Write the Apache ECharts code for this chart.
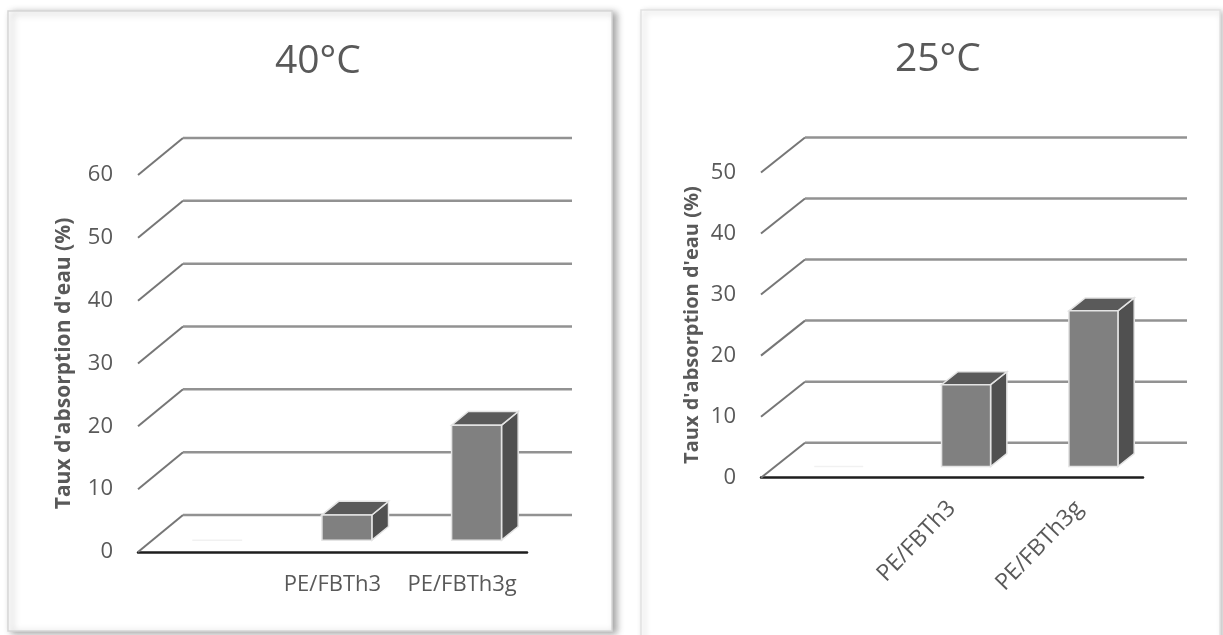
<!DOCTYPE html>
<html>
<head>
<meta charset="utf-8">
<script src="https://cdn.jsdelivr.net/npm/echarts@6/dist/echarts.min.js"></script>
<style>
  html, body { margin: 0; padding: 0; background: #fff; }
  #chart { width: 1223px; height: 635px; }
</style>
</head>
<body>
<div id="chart"></div>
<script>
// Water uptake of the two composites at two temperatures
const categories = ['', 'PE/FBTh3', 'PE/FBTh3g'];
const absorption40 = [0, 4.0, 18.3];
const absorption25 = [0, 13.4, 25.5];
const yTicks40 = [0, 10, 20, 30, 40, 50, 60];
const yTicks25 = [0, 10, 20, 30, 40, 50];
const titles = ['40°C', '25°C'];
const yTitle = "Taux d'absorption d'eau (%)";

const FONT = "'Open Sans', 'Noto Sans', sans-serif";
const TEXT = '#595959';

// pseudo-3D depth of the floor (pixel offset from front edge to back wall)
const DEPTH = [{ dx: 45, dy: -37 }, { dx: 44, dy: -35 }];
const BAR_FRONT = 0.32, BAR_BACK = 0.69, BAR_WIDTH = 0.385;

function wallRenderer(dx, dy) {
  return function (params, api) {
    const cs = params.coordSys;
    const y = api.coord([0, api.value(1)])[1];
    const x0 = cs.x, x1 = cs.x + cs.width;
    return {
      type: 'group',
      children: [
        { type: 'line', shape: { x1: x0, y1: y, x2: x0 + dx, y2: y + dy },
          style: { stroke: '#767676', lineWidth: 2 } },
        { type: 'line', shape: { x1: x0 + dx, y1: y + dy, x2: x1 + dx, y2: y + dy },
          style: { stroke: '#929292', lineWidth: 2.5 } }
      ]
    };
  };
}

function barRenderer(dx, dy) {
  return function (params, api) {
    const cat = api.value(0), v = api.value(1);
    if (v == null || isNaN(v)) return;
    const base = api.coord([cat, 0]);
    const top = api.coord([cat, v]);
    const w = api.size([1, 0])[0] * BAR_WIDTH;
    const ox = dx * BAR_FRONT, oy = dy * BAR_FRONT;
    const ddx = dx * (BAR_BACK - BAR_FRONT), ddy = dy * (BAR_BACK - BAR_FRONT);
    const xl = base[0] - w / 2 + ox, xr = xl + w;
    const yb = base[1] + oy, yt = top[1] + oy;
    const edge = '#e4e4e4';
    if (yb - yt < 0.5) {
      // an empty bar leaves only a faint trace of its front edge on the floor
      return { type: 'line', shape: { x1: xl, y1: yb, x2: xr, y2: yb },
               style: { stroke: '#f1f1f1', lineWidth: 1.5 } };
    }
    return {
      type: 'group',
      children: [
        { type: 'polygon', shape: { points: [[xr, yb], [xr, yt], [xr + ddx, yt + ddy], [xr + ddx, yb + ddy]] },
          style: { fill: '#505050', stroke: edge, lineWidth: 1.5 } },
        { type: 'polygon', shape: { points: [[xl, yt], [xr, yt], [xr + ddx, yt + ddy], [xl + ddx, yt + ddy]] },
          style: { fill: '#5a5a5a', stroke: edge, lineWidth: 1.5 } },
        { type: 'rect', shape: { x: xl, y: yt, width: w, height: yb - yt },
          style: { fill: '#808080', stroke: edge, lineWidth: 1.5 } }
      ]
    };
  };
}

const grids = [
  { left: 138, top: 175, width: 389, height: 377 },
  { left: 761, top: 172.5, width: 382, height: 305.2 }
];

function xAxisFor(i, rotate, margin, size) {
  return {
    gridIndex: i, type: 'category', data: categories, boundaryGap: true,
    axisLine: { show: true, lineStyle: { color: '#1e1e1e', width: 2.5 } },
    axisTick: { show: false },
    splitLine: { show: false },
    axisLabel: { color: TEXT, fontSize: size, fontFamily: FONT, rotate: rotate, margin: margin, interval: 0 }
  };
}
function yAxisFor(i, max, nameGap, nameSize) {
  return {
    gridIndex: i, type: 'value', min: 0, max: max, interval: 10,
    axisLine: { show: false }, axisTick: { show: false }, splitLine: { show: false },
    axisLabel: { color: TEXT, fontSize: 22, fontFamily: FONT, margin: 25 },
    name: yTitle, nameLocation: 'middle', nameRotate: 90, nameGap: nameGap,
    nameTextStyle: { color: TEXT, fontSize: nameSize, fontWeight: 'bold', fontFamily: FONT }
  };
}

const chart = echarts.init(document.getElementById('chart'), null, { renderer: 'canvas' });
chart.setOption({
  animation: false,
  backgroundColor: '#ffffff',
  graphic: [
    { type: 'rect', z: -10, shape: { x: 8, y: 11, width: 604, height: 620 },
      style: { fill: '#ffffff', stroke: '#d6d6d6', lineWidth: 1.5,
               shadowBlur: 7, shadowOffsetX: 4, shadowOffsetY: 2, shadowColor: 'rgba(0,0,0,0.35)' } },
    { type: 'rect', z: -10, shape: { x: 641, y: 10, width: 579, height: 640 },
      style: { fill: '#ffffff', stroke: '#e2e2e2', lineWidth: 1.5,
               shadowBlur: 6, shadowOffsetX: 3, shadowOffsetY: 2, shadowColor: 'rgba(0,0,0,0.22)' } }
  ],
  title: [
    { text: titles[0], left: 270, top: 37,
      textStyle: { color: TEXT, fontSize: 39, fontWeight: 'normal', fontFamily: FONT } },
    { text: titles[1], left: 890, top: 35,
      textStyle: { color: TEXT, fontSize: 39, fontWeight: 'normal', fontFamily: FONT } }
  ],
  grid: grids,
  xAxis: [xAxisFor(0, 0, 22, 22), xAxisFor(1, 46, 27, 23)],
  yAxis: [yAxisFor(0, 60, 63, 21), yAxisFor(1, 50, 59, 20)],
  series: [
    { type: 'custom', xAxisIndex: 0, yAxisIndex: 0, clip: false, z: 1,
      renderItem: wallRenderer(DEPTH[0].dx, DEPTH[0].dy),
      data: yTicks40.map(t => [0, t]) },
    { type: 'custom', xAxisIndex: 1, yAxisIndex: 1, clip: false, z: 1,
      renderItem: wallRenderer(DEPTH[1].dx, DEPTH[1].dy),
      data: yTicks25.map(t => [0, t]) },
    { type: 'custom', xAxisIndex: 0, yAxisIndex: 0, clip: false, z: 3,
      renderItem: barRenderer(DEPTH[0].dx, DEPTH[0].dy),
      data: absorption40.map((v, i) => [i, v]) },
    { type: 'custom', xAxisIndex: 1, yAxisIndex: 1, clip: false, z: 3,
      renderItem: barRenderer(DEPTH[1].dx, DEPTH[1].dy),
      data: absorption25.map((v, i) => [i, v]) }
  ]
});
</script>
</body>
</html>
